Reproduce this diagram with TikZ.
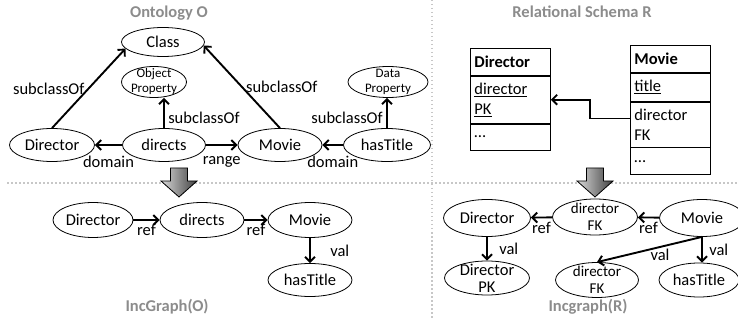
\documentclass[tikz,border=0pt]{standalone}
\usepackage{fontspec}
\setmainfont{Carlito}
\usetikzlibrary{arrows.meta,positioning,shapes.geometric}

\definecolor{titlegray}{gray}{0.55}
\definecolor{sepgray}{gray}{0.78}

\begin{document}
\begin{tikzpicture}[
  x=1pt, y=-1pt,
  font=\fontsize{16.5}{17}\selectfont,
  concept/.style={draw, ellipse, line width=0.8pt, inner sep=0pt, minimum width=84pt, minimum height=33pt, align=center},
  small/.style={align=center, font=\fontsize{13}{15}\selectfont},
  pairtext/.style={align=center, font=\fontsize{15}{17}\selectfont},
  flow/.style={-{Straight Barb[length=5pt,width=10pt]}, line width=1.9pt},
  heading/.style={text=titlegray, font=\fontsize{16.5}{18}\selectfont\bfseries},
  trow/.style={draw, line width=0.8pt, anchor=north west, minimum width=80pt, text width=72pt, inner sep=4pt, align=left, font=\fontsize{16.5}{20}\selectfont},
  sep/.style={sepgray, line width=1.3pt, dash pattern=on 1.5pt off 2.5pt},
  blockarrow/.style={draw=black, line width=0.8pt, left color=gray!30, right color=black!75}
]
\useasboundingbox (0,0) rectangle (738,320);

% separators
\draw[sep] (7,183) -- (738,183);
\draw[sep] (432,0) -- (432,318);

% block arrows
\foreach \cx in {179,595}
  \draw[blockarrow] (\cx-8.5,168) -- (\cx+8.5,168) -- (\cx+8.5,181) -- (\cx+18,181) -- (\cx,197) -- (\cx-18,181) -- (\cx-8.5,181) -- cycle;

% headings
\node[heading] (ontotitle) at (169,13) {Ontology O};
\node[heading] (schematitle) at (582,12) {Relational Schema R};
\node[heading] (incotitle) at (167,307) {IncGraph(O)};
\node[heading] (incrtitle) at (588,307) {Incgraph(R)};

% ontology
\node[concept, minimum width=83pt, minimum height=29pt] (class) at (163,42) {Class};
\node[concept, minimum width=65pt, minimum height=31pt, label={[small]center:Object\\Property}] (objprop) at (154,82) {};
\node[concept, minimum width=85pt] (director) at (52,145) {Director};
\node[concept, minimum width=83pt] (directs) at (164,145) {directs};
\node[concept] (movie) at (280,145) {Movie};
\node[concept, minimum width=87pt] (hastitle) at (387,145) {hasTitle};
\node[concept, minimum width=80pt, minimum height=31pt, label={[small]center:Data\\Property}] (dataprop) at (388,82) {};

\draw[flow] (director.north) -- node[left] (subl) {subclassOf} (class.190);
\draw[flow] (movie.north) -- node[right] (subr) {subclassOf} (class.355);
\draw[flow] (directs.north) -- node[pos=0.35, right] (subm) {subclassOf} (directs.north |- objprop.south);
\draw[flow] (hastitle.north) -- node[pos=0.35, left] (subd) {subclassOf} (hastitle.north |- dataprop.south);
\draw[flow] (directs) -- node[below=7pt] (dom1) {domain} (director);
\draw[flow] (directs) -- node[below=7pt] (rng) {range} (movie);
\draw[flow] (hastitle) -- node[below=7pt] (dom2) {domain} (movie);

% relational schema
\node[trow, minimum height=27pt] (dirhead) at (470,48) {\textbf{Director}};
\node[trow, minimum height=47pt] (dirpk) at (dirhead.south west) {\underline{director}\\\underline{PK}};
\node[trow, minimum height=26pt] (dirrest) at (dirpk.south west) {\dots};

\node[trow, minimum height=27pt] (movhead) at (630,45) {\textbf{Movie}};
\node[trow, minimum height=28pt] (movkey) at (movhead.south west) {\underline{title}};
\node[trow, minimum height=45pt] (movfk) at (movkey.south west) {director\\FK};
\node[trow, minimum height=27pt] (movrest) at (movfk.south west) {\dots};

\draw[flow] ([yshift=6pt]movfk.west) -- ++(-40,0) |- (dirpk.east);

% IncGraph(O)
\node[concept, minimum width=80pt, minimum height=35pt] (incdir) at (93,220) {Director};
\node[concept, minimum height=35pt] (incdirects) at (202,220) {directs};
\node[concept, minimum height=35pt] (incmovie) at (310,220) {Movie};
\node[concept] (inctitle) at (310,280) {hasTitle};

\draw[flow] (incdir) -- node[below] (ref1) {ref} (incdirects);
\draw[flow] (incdirects) -- node[below] (ref2) {ref} (incmovie);
\draw[flow] (incmovie) -- node[right=16pt] (val1) {val} (inctitle);

% IncGraph(R)
\node[concept, minimum width=87pt, minimum height=37pt] (rdir) at (487,218) {Director};
\node[concept, minimum width=85pt, minimum height=36pt, label={[pairtext]center:director\\FK}] (rfk) at (595,217) {};
\node[concept, minimum width=85pt, minimum height=37pt] (rmovie) at (702,218) {Movie};
\node[concept, minimum width=85pt, minimum height=34pt, label={[align=center]center:Director\\PK}] (rpk) at (487,278) {};
\node[concept, minimum width=83pt, minimum height=35pt, label={[pairtext]center:director\\FK}] (rfk2) at (597,280) {};
\node[concept, minimum width=80pt, minimum height=34pt] (rtitle) at (699,280) {hasTitle};

\draw[flow] (rfk) -- node[below] (ref3) {ref} (rdir);
\draw[flow] (rmovie) -- node[below] (ref4) {ref} (rfk);
\draw[flow] (rdir) -- node[right=8pt] (val2) {val} (rpk);
\draw[flow] (rmovie.south) -- node[pos=0.4, anchor=north, inner sep=1.5pt] (val3) {val} (rfk2.north);
\draw[flow] (rmovie.south) -- node[right=3pt] (val4) {val} (rmovie.south |- rtitle.north);
\end{tikzpicture}
\end{document}
